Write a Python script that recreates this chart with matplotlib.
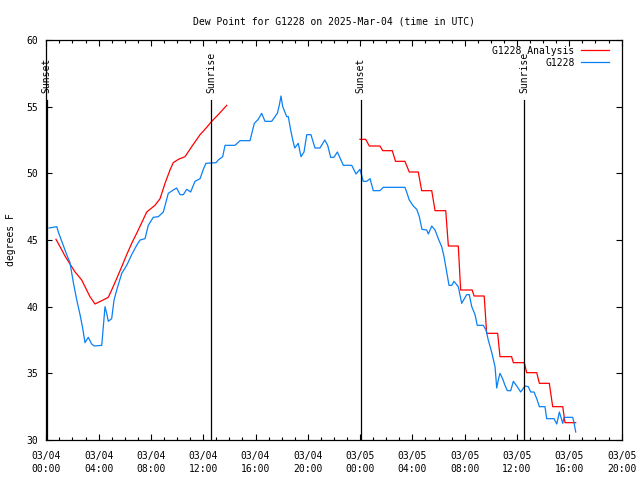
"""
Dew point chart for station G1228, observations vs. analysis,
with sunrise / sunset markers.
"""

import matplotlib
matplotlib.use("Agg")
import matplotlib.pyplot as plt
from matplotlib.ticker import MultipleLocator, FixedLocator

# ============================================================
# Data (hours since 03/04 00:00 UTC, dew point in degrees F)
# ============================================================

obs_hours = [
    0.21, 0.80, 0.92, 1.56, 1.81, 2.07, 2.33, 2.58, 2.78, 2.96, 3.21, 3.47,
    3.67, 4.24, 4.36, 4.49, 4.62, 4.74, 5.00, 5.18, 5.43, 5.77, 6.15, 6.53,
    6.91, 7.17, 7.55, 7.80, 8.18, 8.57, 8.95, 9.33, 9.71, 9.97, 10.23, 10.48,
    10.74, 11.04, 11.37, 11.76, 12.01, 12.21, 12.98, 13.15, 13.49, 13.67,
    14.43, 14.82, 15.58, 15.91, 16.21, 16.47, 16.73, 17.24, 17.67, 17.82,
    17.95, 18.08, 18.39, 18.51, 18.69, 18.85, 19.00, 19.27, 19.48, 19.71,
    19.92, 20.24, 20.55, 20.93, 21.30, 21.52, 21.75, 22.00, 22.26, 22.72,
    23.36, 23.69, 23.99, 24.24, 24.50, 24.76, 25.01, 25.52, 25.77, 27.43,
    27.56, 27.76, 28.07, 28.33, 28.53, 28.73, 29.09, 29.22, 29.48, 29.73,
    29.98, 30.24, 30.42, 30.62, 30.80, 31.01, 31.18, 31.51, 31.77, 32.15,
    32.35, 32.54, 32.79, 32.96, 33.42, 33.63, 33.80, 34.06, 34.32, 34.45,
    34.57, 34.70, 34.90, 35.08, 35.26, 35.52, 35.72, 36.02, 36.28, 36.61,
    36.86, 37.05, 37.30, 37.51, 37.71, 38.14, 38.27, 38.83, 39.04, 39.24,
    39.50, 39.60, 40.26, 40.36, 40.49,
]
obs_dewpt = [
    45.9, 46.0, 45.6, 43.9, 43.3, 41.8, 40.5, 39.4, 38.4, 37.3, 37.7, 37.2,
    37.05, 37.1, 38.5, 40.0, 39.5, 38.9, 39.1, 40.5, 41.4, 42.5, 43.1, 43.9,
    44.6, 45.0, 45.1, 46.1, 46.7, 46.75, 47.1, 48.5, 48.75, 48.9, 48.4, 48.4,
    48.8, 48.6, 49.4, 49.6, 50.3, 50.75, 50.8, 51.0, 51.25, 52.1,
    52.1, 52.45, 52.45, 53.75, 54.05, 54.5, 53.9, 53.9, 54.5, 55.1,
    55.8, 55.0, 54.25, 54.25, 53.25, 52.5, 51.9, 52.25, 51.25, 51.6,
    52.9, 52.9, 51.9, 51.9, 52.5, 52.1, 51.2, 51.2, 51.6, 50.6,
    50.6, 49.95, 50.3, 49.4, 49.4, 49.6, 48.7, 48.7, 48.95, 48.95,
    48.6, 48.0, 47.55, 47.3, 46.75, 45.8, 45.75, 45.45, 46.05, 45.75,
    45.1, 44.5, 43.75, 42.6, 41.6, 41.6, 41.9, 41.5, 40.25, 40.9,
    40.9, 40.0, 39.4, 38.6, 38.6, 38.25, 37.5, 36.6, 35.5, 33.9,
    34.5, 35.0, 34.6, 34.1, 33.7, 33.7, 34.4, 34.0, 33.6, 34.05,
    34.0, 33.6, 33.6, 33.1, 32.5, 32.5, 31.6, 31.6, 31.2, 32.1,
    31.25, 31.7, 31.7, 31.3, 30.6,
]

# analysis, first run (03/04)
ana1_hours = [
    0.74, 1.05, 1.43, 1.81, 2.20, 2.71, 2.96, 3.34, 3.72, 4.24, 4.74, 5.00,
    5.38, 5.77, 6.15, 6.53, 6.91, 7.30, 7.68, 8.31, 8.70, 9.08, 9.46, 9.71,
    10.10, 10.61, 11.12, 11.76, 12.27, 12.65, 13.15, 13.80,
]
ana1_dewpt = [
    45.05, 44.5, 43.8, 43.2, 42.6, 42.0, 41.5, 40.75, 40.2, 40.45, 40.7, 41.25,
    42.1, 43.0, 43.9, 44.75, 45.5, 46.3, 47.1, 47.6, 48.1, 49.25, 50.25, 50.8,
    51.05, 51.25, 52.0, 52.9, 53.45, 53.9, 54.4, 55.1,
]

# analysis, second run (03/05)
ana2_hours = [
    23.99, 24.43, 24.70, 25.52, 25.73, 26.46, 26.71, 27.43, 27.76, 28.45,
    28.71, 29.48, 29.73, 30.55, 30.75, 31.51, 31.69, 32.57, 32.72, 33.49,
    33.68, 34.52, 34.70, 35.59, 35.72, 36.56, 36.74, 37.51, 37.71, 38.47,
    38.73, 39.50, 39.67, 40.49,
]
ana2_dewpt = [
    52.55, 52.55, 52.05, 52.05, 51.7, 51.7, 50.9, 50.9, 50.1, 50.1,
    48.7, 48.7, 47.2, 47.2, 44.55, 44.55, 41.25, 41.25, 40.8, 40.8,
    38.0, 38.0, 36.25, 36.25, 35.8, 35.8, 35.05, 35.05, 34.25, 34.25,
    32.5, 32.5, 31.3, 31.3,
]

sun_events = ["Sunset", "Sunrise", "Sunset", "Sunrise"]
sun_hours = [0.02, 12.6, 24.05, 36.56]

tick_hours = list(range(0, 45, 4))
tick_labels = ["03/04\n00:00", "03/04\n04:00", "03/04\n08:00", "03/04\n12:00",
               "03/04\n16:00", "03/04\n20:00", "03/05\n00:00", "03/05\n04:00",
               "03/05\n08:00", "03/05\n12:00", "03/05\n16:00", "03/05\n20:00"]

# ============================================================
# Plot
# ============================================================

plt.rcParams['font.family'] = ['DejaVu Sans Mono', 'DejaVu Sans']
plt.rcParams['font.size'] = 7

fig = plt.figure(figsize=(6.4, 4.8), dpi=100)
ax = fig.add_axes([46.3 / 640, 40 / 480, 575.3 / 640, 400 / 480])

red = '#ff0000'
blue = '#0a80f5'

ax.plot(ana1_hours, ana1_dewpt, color=red, lw=0.9, label='G1228 Analysis')
ax.plot(ana2_hours, ana2_dewpt, color=red, lw=0.9)
ax.plot(obs_hours, obs_dewpt, color=blue, lw=0.9, label='G1228')

# --- sunrise / sunset markers ---
for name, h in zip(sun_events, sun_hours):
    ax.plot([h, h], [30, 55.5], color='black', lw=0.9)
    ax.text(h, 56.0, name, rotation=90, ha='center', va='bottom', fontsize=7)

ax.set_xlim(0, 44)
ax.set_ylim(30, 60)
ax.xaxis.set_major_locator(FixedLocator(tick_hours))
ax.set_xticklabels(tick_labels, linespacing=1.35)
ax.xaxis.set_minor_locator(MultipleLocator(1))
ax.yaxis.set_major_locator(MultipleLocator(5))

ax.tick_params(which='both', direction='in', top=True, right=True,
               width=0.8, labelsize=7)
ax.tick_params(which='major', length=4.5)
ax.tick_params(axis='x', which='major', pad=8)
ax.tick_params(axis='y', which='major', pad=6)
ax.tick_params(which='minor', length=2.5)
for s in ax.spines.values():
    s.set_linewidth(0.9)

ax.set_ylabel('degrees F', fontsize=7, labelpad=7)
ax.set_title('Dew Point for G1228 on 2025-Mar-04 (time in UTC)',
             fontsize=7, pad=11)

ax.legend(loc='upper right', bbox_to_anchor=(1 - 7 / 575.3, 1),
          frameon=False, markerfirst=False,
          handlelength=2.9, fontsize=7, borderaxespad=0.2,
          labelspacing=0.2, handletextpad=0.6)

fig.savefig('out.png', dpi=100)
